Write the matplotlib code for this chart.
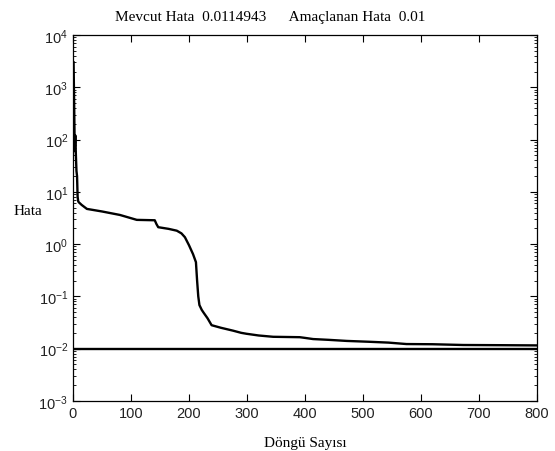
import matplotlib
matplotlib.use("Agg")
import matplotlib.pyplot as plt
from matplotlib.ticker import LogLocator, NullFormatter

plt.rcParams['mathtext.fontset'] = 'custom'
plt.rcParams['mathtext.rm'] = 'Liberation Sans'
plt.rcParams['mathtext.it'] = 'Liberation Sans'

# Error curve (iteration, error)
iters = [1, 2, 3, 4, 5, 6, 7, 8, 9, 10, 15, 24, 50, 81, 110, 141, 144, 147, 165, 179,
         187, 193, 200, 207, 212, 214, 216, 218, 222, 225, 232, 239, 255, 276, 290, 299,
         320, 345, 391, 400, 414, 440, 472, 510, 544, 575, 620, 673, 740, 800]
errors = [3000, 500, 60, 120, 50, 25, 20, 8, 6.6, 6.3, 5.6, 4.7, 4.2, 3.6, 2.9, 2.85, 2.4, 2.1, 1.95, 1.8,
          1.6, 1.35, 0.95, 0.64, 0.45, 0.2, 0.1, 0.068, 0.055, 0.049, 0.038, 0.028, 0.025, 0.022, 0.02, 0.0192,
          0.0178, 0.0168, 0.0165, 0.016, 0.0152, 0.0147, 0.014, 0.0135, 0.013, 0.0122, 0.0121, 0.0117, 0.0116, 0.0114943]
goal = 0.01
current = 0.0114943

fig = plt.figure(figsize=(5.55, 4.52), dpi=100)
ax = fig.add_axes([0.1315, 0.111, 0.836, 0.8094])
ax.semilogy(iters, errors, color='black', lw=1.7)
ax.axhline(goal, color='black', lw=1.7)
ax.set_xlim(0, 800)
ax.set_ylim(1e-3, 1e4)
ax.set_xticks(range(0, 801, 100))
ax.yaxis.set_major_locator(LogLocator(base=10, numticks=20))
ax.yaxis.set_minor_locator(LogLocator(base=10, subs=range(2, 10), numticks=20))
ax.yaxis.set_minor_formatter(NullFormatter())
ax.tick_params(which='both', direction='in', top=True, right=True, labelsize=10.5, colors='black')
ax.tick_params(which='major', length=5, width=0.8)
ax.tick_params(which='minor', length=2.5, width=0.6)
for lab in ax.get_xticklabels() + ax.get_yticklabels():
    lab.set_family('Liberation Sans')
    lab.set_color('#222222')
for s in ax.spines.values():
    s.set_linewidth(0.9)

fig.text(270 / 555, 1 - 17 / 452, f"Mevcut Hata  {current}      Amaçlanan Hata  {goal}",
         family='Liberation Serif', fontsize=11, ha='center', va='center')
ax.set_xlabel("Döngü Sayısı", family='Liberation Serif', fontsize=11)
ax.xaxis.set_label_coords(0.5, -0.095)
ax.set_ylabel("Hata", family='Liberation Serif', fontsize=11, rotation=0, va='center', ha='center')
ax.yaxis.set_label_coords(-0.097, 0.52)

fig.savefig("out.png", dpi=100, facecolor='white')
